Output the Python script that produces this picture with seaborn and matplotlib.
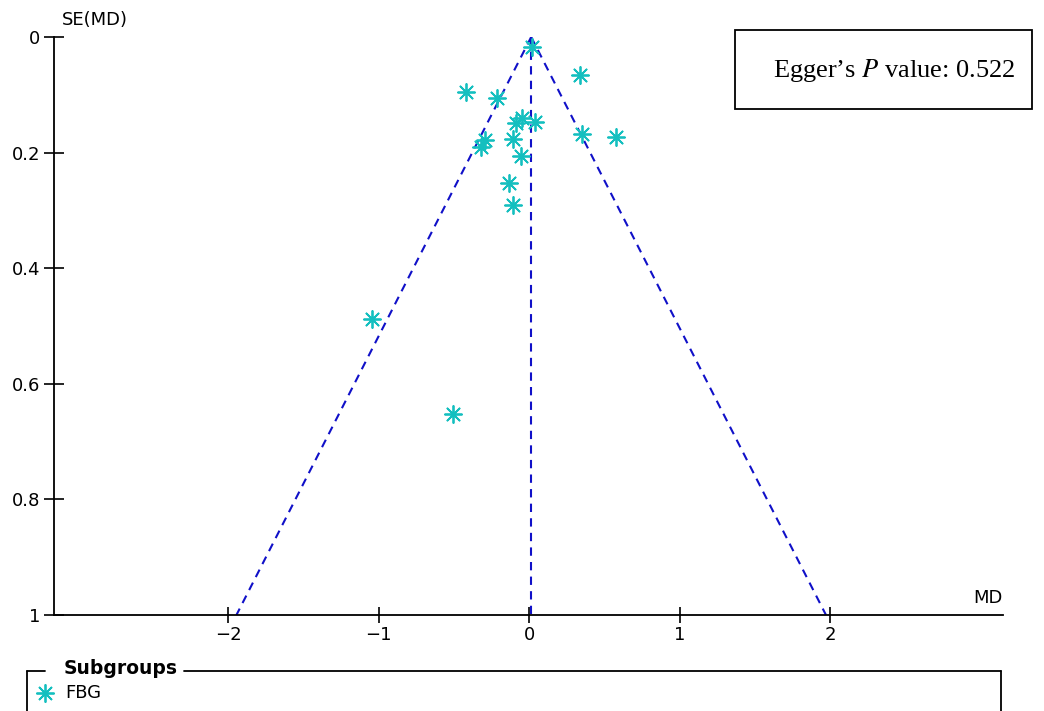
import numpy as np
import pandas as pd
import matplotlib
matplotlib.use("Agg")
import matplotlib.pyplot as plt
from matplotlib.lines import Line2D
import seaborn as sns

# Data
md = [0.018, 0.337, -0.42, -0.213, -0.051, -0.088, 0.038, 0.348, 0.577,
      -0.293, -0.319, -0.108, -0.053, -0.133, -0.108, -1.047, -0.51]
se = [0.017, 0.066, 0.096, 0.105, 0.140, 0.149, 0.147, 0.167, 0.173,
      0.179, 0.190, 0.176, 0.206, 0.253, 0.291, 0.488, 0.653]
pooled = 0.013
xticks = [-2, -1, 0, 1, 2]
yticks = [0, 0.2, 0.4, 0.6, 0.8, 1]
subgroup = "FBG"
egger_p = "0.522"

df = pd.DataFrame({"MD": md, "SE": se, "Subgroup": subgroup})

sns.set_style("white")
plt.rcParams["font.family"] = ["DejaVu Sans"]
plt.rcParams["text.color"] = "black"
plt.rcParams["xtick.color"] = "black"
plt.rcParams["ytick.color"] = "black"
plt.rcParams["xtick.labelcolor"] = "black"
plt.rcParams["ytick.labelcolor"] = "black"

W, H = 1044, 711
fig = plt.figure(figsize=(W / 100, H / 100), dpi=100)
ax = fig.add_axes([54 / W, 1 - 615 / H, (1003 - 54) / W, (615 - 37) / H])

marker_color = "#14BFBF"
line_color = "#1010C8"
dash = (0, (4, 3))

# funnel lines
se_line = np.array([0.0, 1.0])
ax.plot(pooled - 1.96 * se_line, se_line, ls=dash, color=line_color, lw=1.5)
ax.plot(pooled + 1.96 * se_line, se_line, ls=dash, color=line_color, lw=1.5)
ax.plot([pooled, pooled], [0, 1], ls=dash, color=line_color, lw=1.5)

sns.scatterplot(data=df, x="MD", y="SE", marker=(8, 2, 0), s=150,
                color=marker_color, linewidth=1.3, ax=ax, legend=False, zorder=3)

ax.set_xlim(-3.16, 3.15)
ax.set_ylim(1, 0)
ax.set_xticks(xticks)
ax.set_xticklabels(["\u22122", "\u22121", "0", "1", "2"])
ax.set_yticks(yticks)
ax.set_yticklabels(["0", "0.2", "0.4", "0.6", "0.8", "1"])
ax.tick_params(axis="x", direction="inout", length=12, width=1.2, labelsize=13, pad=2, bottom=True)
ax.tick_params(axis="y", direction="inout", length=14, width=1.2, labelsize=13, pad=3, left=True)
for s in ["top", "right"]:
    ax.spines[s].set_visible(False)
for s in ["left", "bottom"]:
    ax.spines[s].set_linewidth(1.3)
    ax.spines[s].set_color("black")
ax.set_xlabel("")
ax.set_ylabel("")
ax.grid(False)

# axis titles
fig.text(62 / W, 1 - 20 / H, "SE(MD)", fontsize=13, ha="left", va="center")
fig.text(1003 / W, 1 - 598 / H, "MD", fontsize=13, ha="right", va="center")

# Egger text box
fig.add_artist(plt.Rectangle((735 / W, 1 - 109 / H), (1032 - 735) / W, (109 - 30) / H,
                             transform=fig.transFigure, fill=False, ec="black", lw=1.3))
fig.text(894 / W, 1 - 71 / H, "Egger\u2019s $\\it{P}$ value: " + egger_p,
         fontsize=19, family="Liberation Serif", ha="center", va="center",
         math_fontfamily="stix")

# Legend box (custom, clipped by figure bottom)
def fl(xs, ys):
    fig.add_artist(Line2D([x / W for x in xs], [1 - y / H for y in ys],
                          transform=fig.transFigure, color="black", lw=1.3))

fl([27, 27], [671, 715])
fl([27, 45], [671, 671])
fl([184, 1001], [671, 671])
fl([1001, 1001], [671, 715])
fig.text(64 / W, 1 - 668 / H, "Subgroups", fontsize=13.5, fontweight="bold", ha="left", va="center")
fig.add_artist(Line2D([45 / W], [1 - 693 / H], transform=fig.transFigure, marker=(8, 2, 0),
                      markersize=13, color=marker_color, mew=1.3, ls="none"))
fig.text(65 / W, 1 - 693 / H, subgroup, fontsize=13, ha="left", va="center")

fig.savefig("out.png", dpi=100)
